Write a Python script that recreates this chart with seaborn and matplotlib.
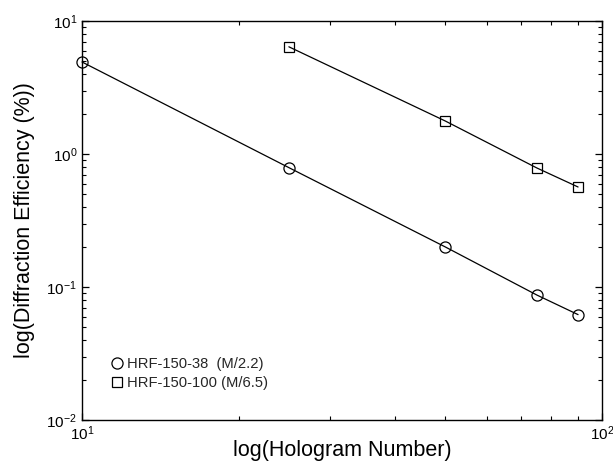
import matplotlib
matplotlib.use("Agg")
import matplotlib.pyplot as plt
from matplotlib.lines import Line2D
from matplotlib.ticker import LogLocator, NullFormatter
import seaborn as sns
import pandas as pd

# Data
hologram_38 = [10, 25, 50, 75, 90]
efficiency_38 = [4.92, 0.79, 0.20, 0.087, 0.062]
hologram_100 = [25, 50, 75, 90]
efficiency_100 = [6.4, 1.77, 0.785, 0.565]
labels = ["HRF-150-38  (M/2.2)", "HRF-150-100 (M/6.5)"]

sns.set_theme(style="ticks")
plt.rcParams["font.family"] = ["Liberation Sans", "DejaVu Sans"]
plt.rcParams["mathtext.default"] = "regular"

df38 = pd.DataFrame({"x": hologram_38, "y": efficiency_38})
df100 = pd.DataFrame({"x": hologram_100, "y": efficiency_100})

fig = plt.figure(figsize=(6.13, 4.62), dpi=100)
ax = fig.add_axes([0.1338, 0.0909, 0.848, 0.8636])

sns.lineplot(data=df38, x="x", y="y", ax=ax, color="black", linewidth=0.9,
             marker="o", markersize=8, markerfacecolor="none",
             markeredgecolor="black", markeredgewidth=0.9, clip_on=False)
sns.lineplot(data=df100, x="x", y="y", ax=ax, color="black", linewidth=0.9,
             marker="s", markersize=7.5, markerfacecolor="none",
             markeredgecolor="black", markeredgewidth=0.9, clip_on=False)

ax.set_xscale("log")
ax.set_yscale("log")
ax.set_xlim(10, 100)
ax.set_ylim(0.01, 10)

ax.xaxis.set_major_locator(LogLocator(base=10, numticks=10))
ax.yaxis.set_major_locator(LogLocator(base=10, numticks=10))
ax.xaxis.set_minor_locator(LogLocator(base=10, subs=range(2, 10), numticks=20))
ax.yaxis.set_minor_locator(LogLocator(base=10, subs=range(2, 10), numticks=20))
ax.xaxis.set_minor_formatter(NullFormatter())
ax.yaxis.set_minor_formatter(NullFormatter())

ax.tick_params(which="both", direction="in", top=True, right=True,
               colors="black", labelsize=11)
ax.tick_params(which="major", length=5, width=0.9)
ax.tick_params(which="minor", length=3, width=0.8)
for s in ax.spines.values():
    s.set_color("black")
    s.set_linewidth(1.0)

ax.set_xlabel("log(Hologram Number)", fontsize=15.5, color="black", va="baseline")
ax.xaxis.set_label_coords(0.5, -0.09)
ax.set_ylabel("log(Diffraction Efficiency (%))", fontsize=15.5, color="black", labelpad=8)

handles = [
    Line2D([], [], linestyle="none", marker="o", markersize=8,
           markerfacecolor="none", markeredgecolor="black", markeredgewidth=0.9),
    Line2D([], [], linestyle="none", marker="s", markersize=7.5,
           markerfacecolor="none", markeredgecolor="black", markeredgewidth=0.9),
]
ax.legend(handles, labels, loc="lower left", bbox_to_anchor=(0.045, 0.06),
          frameon=False, fontsize=10.6, handlelength=0.8, handletextpad=0.3,
          labelspacing=0.35, borderaxespad=0)

fig.savefig("out.png", dpi=100)
